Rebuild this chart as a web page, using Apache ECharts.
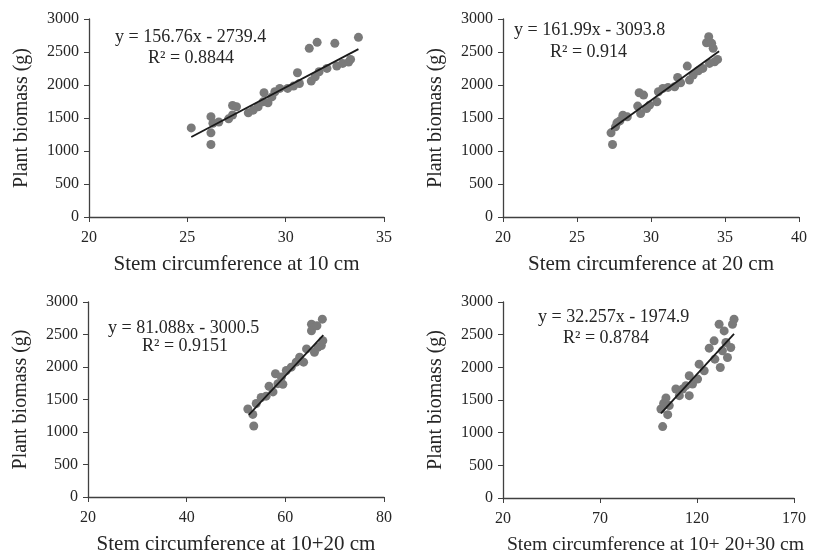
<!DOCTYPE html>
<html>
<head>
<meta charset="utf-8">
<script src="https://cdn.jsdelivr.net/npm/echarts@6/dist/echarts.min.js"></script>
<style>
html,body{margin:0;padding:0;background:#fff;}
#chart{width:823px;height:556px;}
</style>
</head>
<body>
<div id="chart"></div>
<script>
// Panel 1: stem circumference at 10 cm vs plant biomass
const points10 = [
  [25.2,1350],[26.2,1520],[26.2,1275],[26.2,1098],[26.3,1420],[26.6,1440],[27.1,1487],
  [27.3,1690],[27.5,1670],[27.3,1545],[28.1,1578],[28.35,1619],[28.6,1670],[28.85,1745],
  [28.9,1882],[29.1,1730],[29.3,1820],[29.45,1897],[29.7,1948],[30.1,1948],[30.4,1983],
  [30.6,2185],[30.7,2023],[31.2,2555],[31.3,2059],[31.5,2125],[31.6,2646],[31.7,2200],
  [32.1,2251],[32.5,2631],[32.6,2287],[32.9,2327],[33.2,2347],[33.3,2388],[33.7,2722]
];
const trend10 = [[25.2,1211],[33.7,2543]];
// Panel 2: stem circumference at 20 cm
const points20 = [
  [27.3,1275],[27.4,1098],[27.6,1366],[27.7,1427],[27.9,1457],[28.1,1543],[28.4,1518],
  [29.1,1680],[29.2,1882],[29.5,1847],[29.3,1568],[29.7,1644],[29.9,1695],[30.4,1745],
  [30.5,1897],[30.8,1948],[31.15,1963],[31.6,1973],[31.8,2115],[32.0,2034],[32.45,2287],
  [32.6,2074],[32.85,2150],[33.2,2216],[33.5,2251],[33.75,2641],[33.9,2732],[34.1,2631],
  [34.2,2555],[33.95,2327],[34.3,2352],[34.5,2388]
];
const trend20 = [[27.3,1329],[34.6,2511]];
// Panel 3: stem circumference at 10+20 cm
const points1020 = [
  [52.4,1353],[53.4,1271],[53.6,1093],[54.1,1439],[55.1,1530],[56.1,1551],[56.7,1703],
  [57.5,1617],[58.0,1897],[58.5,1744],[59.2,1846],[59.5,1734],[60.2,1947],[61.2,1998],
  [62.2,2075],[62.9,2151],[63.7,2075],[64.3,2278],[65.3,2659],[65.3,2558],[66.4,2634],
  [67.3,2329],[67.5,2736],[67.6,2405],[65.9,2227],[66.6,2303]
];
const trend1020 = [[52.6,1265],[67.7,2489]];
// Panel 4: stem circumference at 10+20+30 cm
const points102030 = [
  [102.3,1093],[101.4,1363],[102.8,1449],[104.0,1530],[104.9,1276],[105.7,1414],
  [109.1,1668],[110.9,1566],[112.6,1668],[114.3,1719],[116.0,1566],[116.0,1871],
  [117.7,1744],[120.3,1820],[121.1,2049],[123.7,1947],[126.3,2293],[128.8,2405],
  [129.2,2125],[131.4,2659],[132.0,1998],[133.1,2252],[134.0,2558],[134.9,2380],
  [135.7,2151],[137.4,2303],[138.3,2659],[139.1,2736]
];
const trend102030 = [[101.4,1296],[139.1,2512]];

const xNames = ['Stem circumference at 10 cm','Stem circumference at 20 cm','Stem circumference at 10+20 cm','Stem circumference at 10+ 20+30 cm'];
const yName = 'Plant biomass (g)';
const xMins = [20,20,20,20];
const xMaxs = [35,40,80,170];
const xIntervals = [5,5,20,50];
const yMin = 0, yMax = 3000, yInterval = 500;
const equations = ['y = 156.76x - 2739.4','y = 161.99x - 3093.8','y = 81.088x - 3000.5','y = 32.257x - 1974.9'];
const r2Texts = ['R² = 0.8844','R² = 0.914','R² = 0.9151','R² = 0.8784'];

const allPoints = [points10, points20, points1020, points102030];
const allTrends = [trend10, trend20, trend1020, trend102030];

const grids = [
  {left:89, top:19, width:295, height:198},
  {left:503, top:19, width:296, height:198},
  {left:88, top:302, width:296, height:197},
  {left:503, top:302, width:291, height:197}
];
const xNameSizes = [21, 21, 21, 19.7];
const xNameGaps = [37, 37, 37, 37];
const eqPos = [
  [{x:115,y:37},{x:148,y:58}],
  [{x:514,y:30},{x:550,y:52}],
  [{x:108,y:328},{x:142,y:346}],
  [{x:538,y:317},{x:563,y:338}]
];

const FONT = '"Liberation Serif","Times New Roman",serif';
const axisColor = '#404040';
const textColor = '#262626';

const xAxes = [], yAxes = [], series = [], graphics = [];
for (let i = 0; i < 4; i++) {
  xAxes.push({
    gridIndex:i, type:'value', min:xMins[i], max:xMaxs[i], interval:xIntervals[i],
    name:xNames[i], nameLocation:'middle', nameGap:xNameGaps[i],
    nameTextStyle:{fontFamily:FONT, fontSize:xNameSizes[i], color:textColor,
      padding: i === 3 ? [0,0,0,14] : 0},
    axisLine:{onZero:false, lineStyle:{color:axisColor, width:1.3}},
    axisTick:{show:true, inside:false, length:5, lineStyle:{color:axisColor}},
    axisLabel:{fontFamily:FONT, fontSize:16, color:textColor, margin:13, formatter:v => String(v)},
    splitLine:{show:false}
  });
  yAxes.push({
    gridIndex:i, type:'value', min:yMin, max:yMax, interval:yInterval,
    name:yName, nameLocation:'middle', nameGap:57, nameRotate:90,
    nameTextStyle:{fontFamily:FONT, fontSize:20, color:textColor},
    axisLine:{show:true, onZero:false, lineStyle:{color:axisColor, width:1.3}},
    axisTick:{show:true, inside:false, length:5, lineStyle:{color:axisColor}},
    axisLabel:{fontFamily:FONT, fontSize:16, color:textColor, margin:10, formatter:v => String(v)},
    splitLine:{show:false}
  });
  series.push({
    type:'scatter', xAxisIndex:i, yAxisIndex:i, data:allPoints[i],
    symbolSize:9, itemStyle:{color:'#7a7a7a', opacity:1}, silent:true, z:2
  });
  series.push({
    type:'line', xAxisIndex:i, yAxisIndex:i, data:allTrends[i],
    symbol:'none', lineStyle:{color:'#1a1a1a', width:1.8}, silent:true, z:3
  });
  graphics.push({type:'text', left:eqPos[i][0].x, top:eqPos[i][0].y-9,
    style:{text:equations[i], font:'18px ' + FONT, fill:textColor}});
  graphics.push({type:'text', left:eqPos[i][1].x, top:eqPos[i][1].y-9,
    style:{text:r2Texts[i], font:'18px ' + FONT, fill:textColor}});
}

const chart = echarts.init(document.getElementById('chart'), null, {renderer:'canvas'});
chart.setOption({
  animation:false,
  backgroundColor:'#fff',
  grid:grids,
  xAxis:xAxes,
  yAxis:yAxes,
  series:series,
  graphic:graphics
});
</script>
</body>
</html>
